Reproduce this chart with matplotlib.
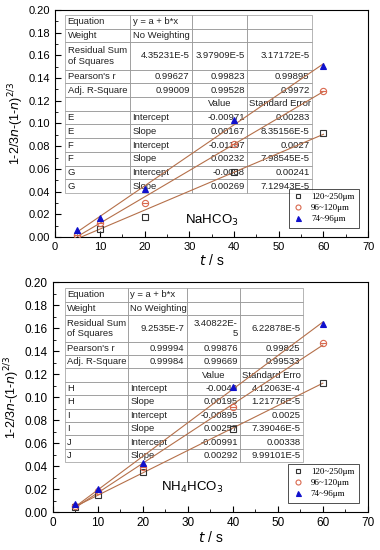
import matplotlib
matplotlib.use("Agg")
import matplotlib.pyplot as plt
from matplotlib.ticker import MultipleLocator, FormatStrFormatter
import numpy as np

t = [5, 10, 20, 40, 60]
sizes = ["120~250μm", "96~120μm", "74~96μm"]

# NaHCO3
na_y = [
    [0.001, 0.007, 0.018, 0.057, 0.092],
    [0.002, 0.012, 0.030, 0.082, 0.129],
    [0.006, 0.017, 0.042, 0.103, 0.151],
]
na_fit = [(-0.00971, 0.00167), (-0.01107, 0.00232), (-0.0088, 0.00269)]
na_names = ["E", "F", "G"]
na_rss = ["4.35231E-5", "3.97909E-5", "3.17172E-5"]
na_r = ["0.99627", "0.99823", "0.99895"]
na_r2 = ["0.99009", "0.99528", "0.9972"]
na_err = [("0.00283", "8.35156E-5"), ("0.0027", "7.98545E-5"), ("0.00241", "7.12943E-5")]
na_val = [("-0.00971", "0.00167"), ("-0.01107", "0.00232"), ("-0.0088", "0.00269")]

# NH4HCO3
nh_y = [
    [0.004, 0.015, 0.035, 0.072, 0.112],
    [0.005, 0.018, 0.039, 0.091, 0.147],
    [0.007, 0.020, 0.043, 0.109, 0.164],
]
nh_fit = [(-0.0049, 0.00195), (-0.00895, 0.00257), (-0.00991, 0.00292)]
nh_names = ["H", "I", "J"]
nh_rss = ["9.2535E-7", "3.40822E-\n5", "6.22878E-5"]
nh_r = ["0.99994", "0.99876", "0.99825"]
nh_r2 = ["0.99984", "0.99669", "0.99533"]
nh_err = [("4.12063E-4", "1.21776E-5"), ("0.0025", "7.39046E-5"), ("0.00338", "9.99101E-5")]
nh_val = [("-0.0049", "0.00195"), ("-0.00895", "0.00257"), ("-0.00991", "0.00292")]

plt.rcParams['font.family'] = ['Liberation Sans', 'DejaVu Sans']
line_c = '#b5704a'
mk_c = ['#333333', '#d9694f', '#1010cc']

fig = plt.figure(figsize=(3.8, 5.5), dpi=100)
ax1 = fig.add_axes([0.145, 0.569, 0.824, 0.413])
ax2 = fig.add_axes([0.139, 0.069, 0.829, 0.418])


def draw(ax, ys, fits, names, rss, rr, r2, vals, errs, label, label_xy, tbox, colw, stderr_txt, tsize):
    xx = np.array([5, 60])
    for a, b in fits:
        ax.plot(xx, a + b * xx, color=line_c, lw=0.8, zorder=3)
    ax.plot(t, ys[0], 's', mfc='none', mec=mk_c[0], ms=4, mew=0.8, label=sizes[0], zorder=4)
    ax.plot(t, ys[1], 'o', mfc='none', mec=mk_c[1], ms=4.5, mew=0.8, label=sizes[1], zorder=4)
    ax.plot(t, ys[1], '_', color=mk_c[1], ms=4, mew=0.8, zorder=4)
    ax.plot(t, ys[2], '^', mfc=mk_c[2], mec=mk_c[2], ms=4.5, mew=0.8, label=sizes[2], zorder=4)

    ax.set_xlim(0, 70)
    ax.set_ylim(0, 0.20)
    ax.xaxis.set_major_locator(MultipleLocator(10))
    ax.xaxis.set_minor_locator(MultipleLocator(5))
    ax.yaxis.set_major_locator(MultipleLocator(0.02))
    ax.yaxis.set_minor_locator(MultipleLocator(0.01))
    ax.yaxis.set_major_formatter(FormatStrFormatter('%.2f'))
    ax.tick_params(which='both', direction='in', labelsize=tsize)
    ax.tick_params(which='major', length=4)
    ax.tick_params(which='minor', length=2)
    ax.set_xlabel('$t$ / s', fontsize=10, labelpad=1)
    ax.set_ylabel('1-2/3$n$-(1-$n$)$^{2/3}$', fontsize=9, labelpad=2)
    ax.text(label_xy[0], label_xy[1], label, fontsize=9.5)

    leg = ax.legend(loc='lower right', prop={'family': 'Liberation Serif', 'size': 6.5},
                    frameon=True, fancybox=False, edgecolor='black', handlelength=1.2,
                    borderpad=0.5, labelspacing=0.3, bbox_to_anchor=(0.985, 0.02),
                    markerscale=0.8)
    leg.get_frame().set_linewidth(0.6)

    rows = [
        ["Equation", "y = a + b*x", "", ""],
        ["Weight", "No Weighting", "", ""],
        ["Residual Sum\nof Squares"] + rss,
        ["Pearson's r"] + rr,
        ["Adj. R-Square"] + r2,
        ["", "", "Value", stderr_txt],
    ]
    for n, v, e in zip(names, vals, errs):
        rows.append([n, "Intercept", v[0], e[0]])
        rows.append([n, "Slope", v[1], e[1]])
    tb = ax.table(cellText=rows, bbox=tbox, colWidths=colw, zorder=2)
    tb.auto_set_font_size(False)
    units = 13.0
    for (r, c), cell in tb.get_celld().items():
        cell.set_edgecolor('#999999')
        cell.set_linewidth(0.5)
        cell.set_facecolor('none')
        cell.PAD = 0.04
        cell.set_height(tbox[3] * (2 if r == 2 else 1) / units)
        txt = cell.get_text()
        txt.set_fontsize(6.8)
        txt.set_color('#222222')
        if c == 0 or (c == 1 and (r < 2 or r >= 6)):
            txt.set_ha('left')
        elif r == 5:
            txt.set_ha('center')
            txt.set_multialignment('center')
        else:
            txt.set_ha('right')
            txt.set_multialignment('right')


draw(ax1, na_y, na_fit, na_names, na_rss, na_r, na_r2, na_val, na_err,
     'NaHCO$_3$', (29, 0.012), [0.032, 0.194, 0.789, 0.784], [65, 62, 55, 65], 'Standard Error', 8)
draw(ax2, nh_y, nh_fit, nh_names, nh_rss, nh_r, nh_r2, nh_val, nh_err,
     'NH$_4$HCO$_3$', (24, 0.018), [0.038, 0.217, 0.756, 0.757], [63, 59, 53, 63], 'Standard Erro', 8.5)

fig.savefig('out.png', dpi=100)
